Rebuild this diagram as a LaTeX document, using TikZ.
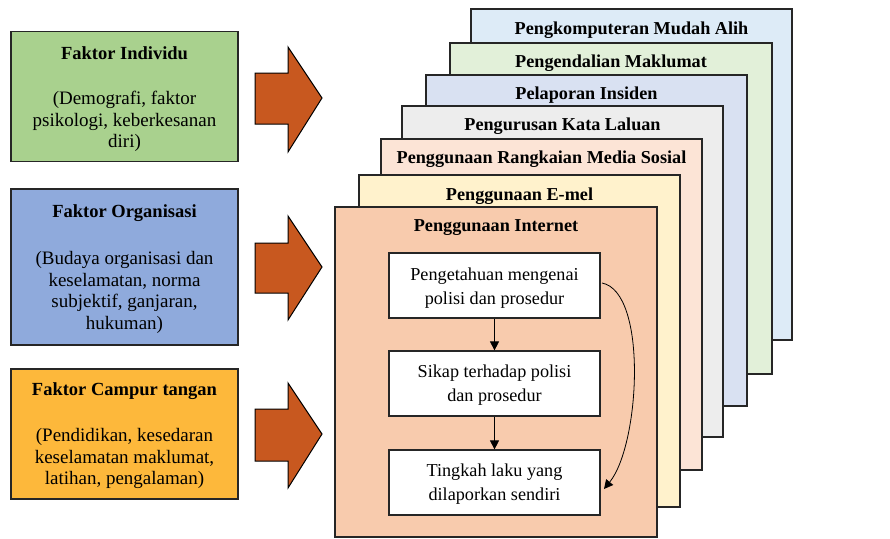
\documentclass[tikz,border=0pt]{standalone}
\usepackage{fontspec}
\setmainfont{Liberation Serif}
\usetikzlibrary{arrows.meta}
\definecolor{cgreen}{HTML}{A9D18E}
\definecolor{cblue}{HTML}{8FAADC}
\definecolor{corange}{HTML}{FDB83B}
\definecolor{carrow}{HTML}{C8581F}
\definecolor{sA}{HTML}{DDEBF7}
\definecolor{sB}{HTML}{E2F0D9}
\definecolor{sC}{HTML}{D9E1F2}
\definecolor{sD}{HTML}{EDEDED}
\definecolor{sE}{HTML}{FCE4D6}
\definecolor{sF}{HTML}{FFF2CC}
\definecolor{sG}{HTML}{F8CBAD}
\begin{document}
\begin{tikzpicture}[x=1pt,y=-1pt,
  factor/.style={draw=black!85,line width=1.3pt,minimum width=227pt,inner sep=0pt},
  ftitle/.style={font=\fontsize{18.5}{20}\selectfont\bfseries,inner sep=0pt,anchor=center},
  fbody/.style={font=\fontsize{19}{21.5}\selectfont,align=center,inner sep=0pt,anchor=center},
  bigarrow/.style={draw=black,line width=1pt,fill=carrow},
  layer/.style={draw=black!85,line width=1.5pt},
  ltitle/.style={font=\fontsize{18.2}{20}\selectfont\bfseries,inner sep=0pt,anchor=center},
  stepbox/.style={draw=black!85,fill=white,line width=1.2pt,minimum width=211pt,minimum height=65pt,inner sep=0pt},
  steptext/.style={align=center,inner sep=0pt,anchor=center,font=\fontsize{18.2}{24}\selectfont},
  flow/.style={line width=0.8pt,-{Triangle[length=9pt,width=9pt]}}]
\useasboundingbox (0,0) rectangle (890,538);
\fill[white] (0,0) rectangle (890,538);

% left factor boxes
\node[factor,fill=cgreen,minimum height=130pt] (ind) at (124.5,96.5) {};
\node[ftitle] (indt) at (124.5,53) {Faktor Individu};
\node[fbody] (indb) at (124.5,121.5) {(Demografi, faktor\\psikologi, keberkesanan\\diri)};

\node[factor,fill=cblue,minimum height=156pt] (org) at (124.5,267) {};
\node[ftitle] (orgt) at (124.5,213) {Faktor Organisasi};
\node[fbody] (orgb) at (124.5,292.5) {(Budaya organisasi dan\\keselamatan, norma\\subjektif, ganjaran,\\hukuman)};

\node[factor,fill=corange,minimum height=130pt] (cam) at (124.5,434) {};
\node[ftitle] (camt) at (124.5,391) {Faktor Campur tangan};
\node[fbody] (camb) at (124.5,458.5) {(Pendidikan, kesedaran\\keselamatan maklumat,\\latihan, pengalaman)};

% big arrows
\draw[bigarrow] (255,73) -- (288,73) -- (288,47) -- (322,98) -- (288,152) -- (288,124) -- (255,124) -- cycle;
\draw[bigarrow] (255,243) -- (288,243) -- (288,216) -- (322,267) -- (288,320) -- (288,293) -- (255,293) -- cycle;
\draw[bigarrow] (255,409) -- (288,409) -- (288,383) -- (322,434) -- (288,488) -- (288,461) -- (255,461) -- cycle;

% stacked layers
\draw[layer,fill=sA] (471,9) rectangle (792,340);
\node[ltitle] (l1) at (631.5,30) {Pengkomputeran Mudah Alih};
\draw[layer,fill=sB] (450,43) rectangle (772,374);
\node[ltitle] (l2) at (611,63) {Pengendalian Maklumat};
\draw[layer,fill=sC] (426,75) rectangle (747,406);
\node[ltitle] (l3) at (586.5,95) {Pelaporan Insiden};
\draw[layer,fill=sD] (402,106) rectangle (723,437);
\node[ltitle] (l4) at (562.5,126) {Pengurusan Kata Laluan};
\draw[layer,fill=sE] (381,139) rectangle (702,470);
\node[ltitle] (l5) at (541.5,159) {Penggunaan Rangkaian Media Sosial};
\draw[layer,fill=sF] (359,175) rectangle (680,507);
\node[ltitle] (l6) at (519.5,196) {Penggunaan E-mel};
\draw[layer,fill=sG] (335,207) rectangle (657,537);
\node[ltitle] (l7) at (496,228) {Penggunaan Internet};

% inner flow
\node[stepbox] (k) at (494.5,285.5) {};
\node[steptext] (kt) at (494.5,288) {Pengetahuan mengenai\\polisi dan prosedur};
\node[stepbox] (s) at (494.5,383.5) {};
\node[steptext] (st) at (494.5,385.5) {Sikap terhadap polisi\\dan prosedur};
\node[stepbox] (t) at (494.5,482.5) {};
\node[steptext] (tt) at (494.5,484.5) {Tingkah laku yang\\dilaporkan sendiri};
\draw[flow] (k.south) -- (s.north);
\draw[flow] (s.south) -- (t.north);
\coordinate (cs) at (602,283);
\coordinate (ce) at (604,489);
\draw[flow] (cs) .. controls (648,292) and (640,445) .. (ce);
\end{tikzpicture}
\end{document}
